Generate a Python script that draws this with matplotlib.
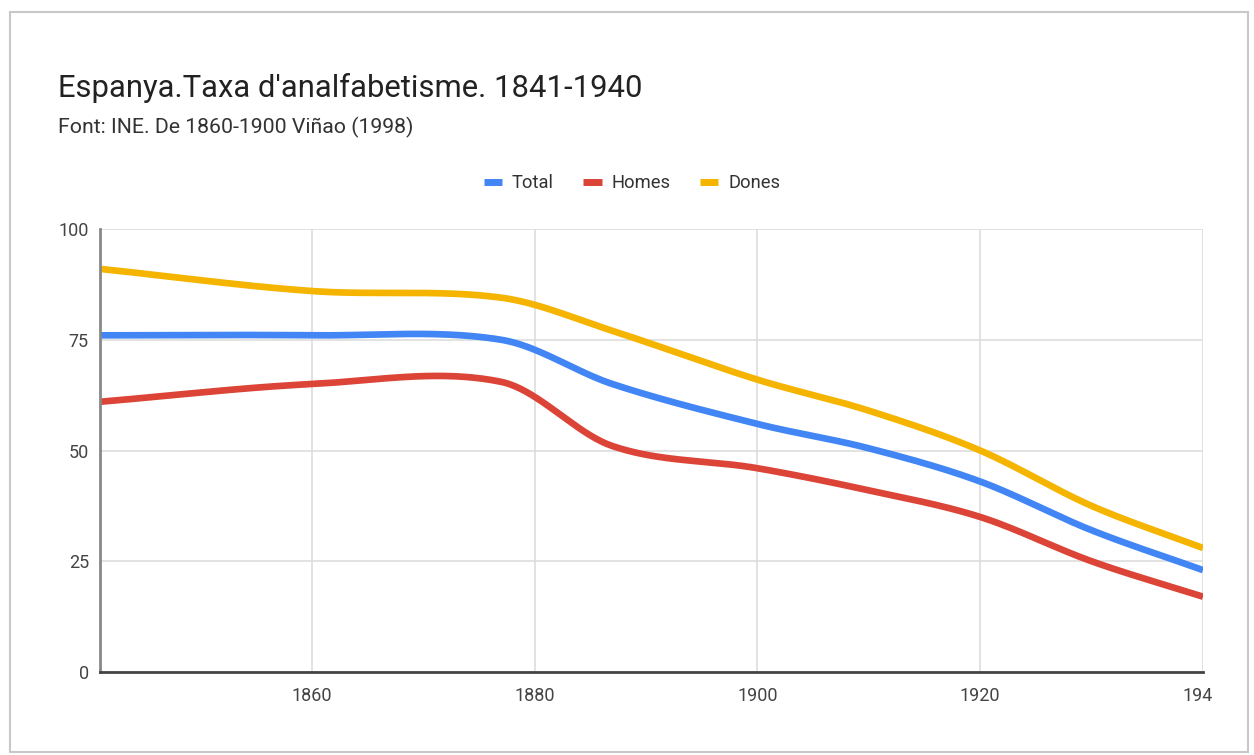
import numpy as np
import matplotlib
matplotlib.use("Agg")
import matplotlib.pyplot as plt
from matplotlib.lines import Line2D
from matplotlib.patches import Rectangle
from matplotlib.transforms import ScaledTranslation

plt.rcParams['font.family'] = ['Roboto', 'DejaVu Sans']

title = "Espanya.Taxa d'analfabetisme. 1841-1940"
subtitle = "Font: INE. De 1860-1900 Viñao (1998)"

years = [1841, 1860, 1877, 1887, 1900, 1910, 1920, 1930, 1940]
total = [76, 76, 75, 65, 56, 50.5, 43, 32, 23]
homes = [61, 65, 65.5, 51, 46, 41, 35, 25, 17]
dones = [91, 86, 84.5, 77, 66, 59, 50, 37.5, 28]

series_names = ["Total", "Homes", "Dones"]
colors = ["#4285F4", "#DB4437", "#F4B400"]

xticks = [1860, 1880, 1900, 1920, 1940]
xtick_labels = ["1860", "1880", "1900", "1920", "194"]
yticks = [0, 25, 50, 75, 100]


def smooth(x, y, n=40):
    """Cubic Hermite curve through the data points (finite-difference tangents)."""
    x = np.asarray(x, float)
    y = np.asarray(y, float)
    m = np.zeros_like(y)
    m[0] = (y[1] - y[0]) / (x[1] - x[0])
    m[-1] = (y[-1] - y[-2]) / (x[-1] - x[-2])
    for i in range(1, len(x) - 1):
        m[i] = (y[i + 1] - y[i - 1]) / (x[i + 1] - x[i - 1])
    xs, ys = [], []
    for i in range(len(x) - 1):
        h = x[i + 1] - x[i]
        t = np.linspace(0, 1, n, endpoint=(i == len(x) - 2))
        h00 = 2 * t**3 - 3 * t**2 + 1
        h10 = t**3 - 2 * t**2 + t
        h01 = -2 * t**3 + 3 * t**2
        h11 = t**3 - t**2
        xs.append(x[i] + t * h)
        ys.append(h00 * y[i] + h10 * h * m[i] + h01 * y[i + 1] + h11 * h * m[i + 1])
    return np.concatenate(xs), np.concatenate(ys)


W, H = 1254, 755
fig = plt.figure(figsize=(W / 100, H / 100), dpi=100)
fig.patch.set_facecolor("white")

ax = fig.add_axes([100 / W, 1 - 672 / H, (1203 - 100) / W, (672 - 229) / H])

for vals, name, col in zip([total, homes, dones], series_names, colors):
    sx, sy = smooth(years, vals)
    ax.plot(sx, sy, color=col, lw=4.8, solid_capstyle="butt", solid_joinstyle="round",
            label=name, zorder=3)

ax.set_xlim(1841, 1940)
ax.set_ylim(0, 100)
ax.set_xticks(xticks)
ax.set_xticklabels(xtick_labels)
ax.set_yticks(yticks)
ax.tick_params(axis="both", length=0, labelsize=13, labelcolor="#444444")
ax.tick_params(axis="x", pad=11)
ax.tick_params(axis="y", pad=8)
ax.grid(True, color="#dddddd", lw=1.2, zorder=0)
for s in ["top", "right"]:
    ax.spines[s].set_visible(False)
ax.spines["left"].set_color("#888888")
ax.spines["left"].set_linewidth(2)
ax.spines["bottom"].set_color("#444444")
ax.spines["bottom"].set_linewidth(2)
ax.spines["left"].set_zorder(4)
ax.spines["bottom"].set_zorder(4)

# last x label is cut in the reference
lab = ax.get_xticklabels()[-1]
lab.set_transform(lab.get_transform() + ScaledTranslation(-5.5 / 100, 0, fig.dpi_scale_trans))

fig.text(58 / W, 1 - 97 / H, title, fontsize=22.3, color="#222222", va="baseline", ha="left")
fig.text(58 / W, 1 - 133 / H, subtitle, fontsize=15.3, color="#333333", va="baseline", ha="left")

handles = [Line2D([0], [0], color=c, lw=5, solid_capstyle="butt") for c in colors]
fig.legend(handles, series_names, loc="center", bbox_to_anchor=(632 / W, 1 - 183 / H),
           ncol=3, frameon=False, fontsize=13.2, handlelength=1.0, handletextpad=0.55,
           columnspacing=1.6, labelcolor="#333333")

fig.add_artist(Rectangle((10 / W, 1 - 752 / H), (1248 - 10) / W, (752 - 12) / H,
                         transform=fig.transFigure, fill=False, edgecolor="#c8c8c8", lw=1.5))

fig.savefig("out.png", dpi=100, facecolor="white")
